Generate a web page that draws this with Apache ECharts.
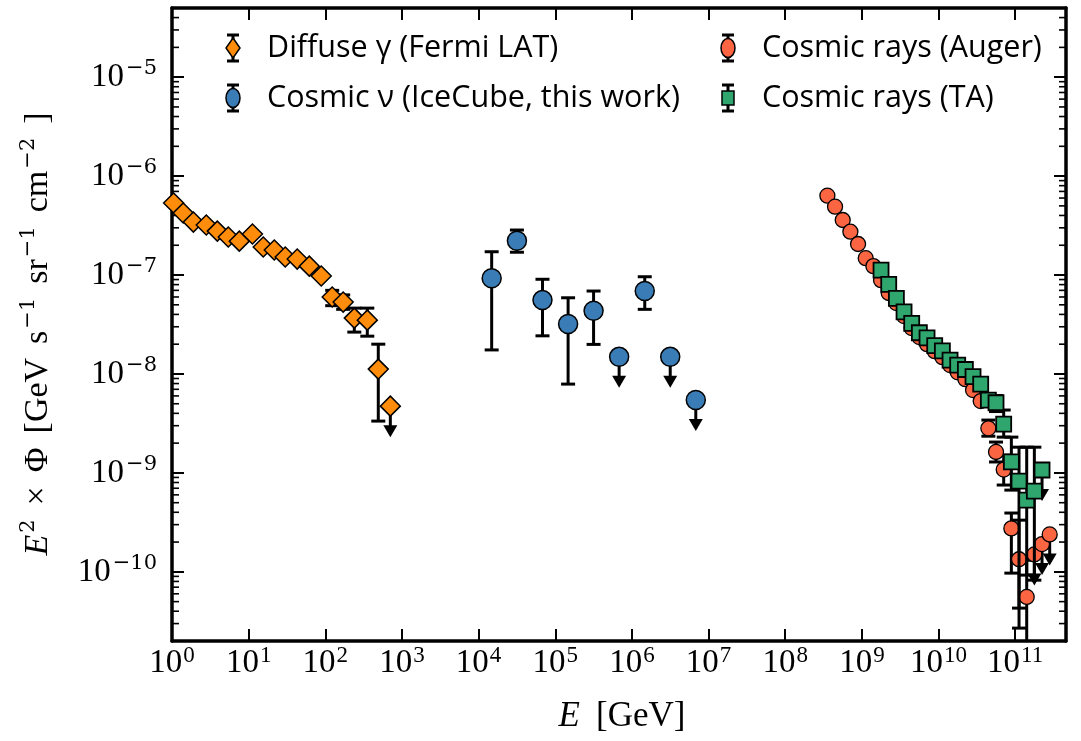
<!DOCTYPE html>
<html><head><meta charset="utf-8">
<script src="https://cdn.jsdelivr.net/npm/echarts@6/dist/echarts.min.js"></script>
<style>html,body{margin:0;padding:0;background:#fff}#c{width:1081px;height:741px}</style>
</head><body><div id="c"></div>
<script>
// ---------- data ----------
const fermiE    = [1.05, 1.40, 1.90, 2.80, 3.90, 5.42, 7.55, 11.2, 15.5, 21.6, 30.0, 43.0, 61.8, 88.5, 123, 171, 239, 353, 491, 705];
const fermiFlux = [5.35e-7, 4.24e-7, 3.43e-7, 3.20e-7, 2.78e-7, 2.42e-7, 2.20e-7, 2.60e-7, 1.92e-7, 1.79e-7, 1.52e-7, 1.45e-7, 1.23e-7, 9.77e-8, 6.0e-8, 5.33e-8, 3.67e-8, 3.50e-8, 1.12e-8, 4.73e-9];
const fermiLo   = [null, null, null, null, null, null, null, null, null, null, null, null, null, null, 4.9e-8, 4.5e-8, 2.65e-8, 2.41e-8, 3.34e-9, null];
const fermiHi   = [null, null, null, null, null, null, null, null, null, null, null, null, null, null, 7.0e-8, 6.3e-8, 4.63e-8, 4.63e-8, 2.0e-8, null];
const fermiUL   = [0,0,0,0,0,0,0,0,0,0,0,0,0,0,0,0,0,0,0,1];

const icE    = [1.48e4, 3.16e4, 6.81e4, 1.47e5, 3.16e5, 6.81e5, 1.47e6, 3.16e6, 6.81e6];
const icFlux = [9.27e-8, 2.22e-7, 5.58e-8, 3.20e-8, 4.36e-8, 1.49e-8, 6.89e-8, 1.49e-8, 5.45e-9];
const icLo   = [1.75e-8, 1.70e-7, 2.43e-8, 7.9e-9, 1.99e-8, null, 4.5e-8, null, null];
const icHi   = [1.72e-7, 2.85e-7, 9.06e-8, 5.89e-8, 6.89e-8, null, 9.61e-8, null, null];
const icUL   = [0,0,0,0,0,1,0,1,1];

const augerE    = [3.548e8, 4.467e8, 5.623e8, 7.079e8, 8.913e8, 1.122e9, 1.413e9, 1.778e9, 2.239e9, 2.818e9,
                   3.548e9, 4.467e9, 5.623e9, 7.079e9, 8.913e9, 1.122e10, 1.413e10, 1.778e10, 2.239e10, 2.818e10,
                   3.548e10, 4.467e10, 5.623e10, 7.079e10, 8.913e10, 1.122e11, 1.413e11, 1.778e11, 2.239e11, 2.818e11];
const augerFlux = [6.34e-7, 4.91e-7, 3.60e-7, 2.74e-7, 2.06e-7, 1.48e-7, 1.23e-7, 8.87e-8, 6.58e-8, 5.21e-8,
                   3.85e-8, 2.91e-8, 2.36e-8, 2.00e-8, 1.70e-8, 1.48e-8, 1.23e-8, 1.04e-8, 8.87e-9, 6.87e-9,
                   5.32e-9, 2.82e-9, 1.63e-9, 1.08e-9, 2.75e-10, 1.34e-10, 5.58e-11, 1.50e-10, 1.91e-10, 2.39e-10];
const augerLo   = [null,null,null,null,null,null,null,null,null,null,null,null,null,null,null,null,null,null,null,null,
                   null, 2.35e-9, 1.29e-9, 7.54e-10, 9.71e-11, 2.70e-11, 1.0e-11, null, null, null];
const augerHi   = [null,null,null,null,null,null,null,null,null,null,null,null,null,null,null,null,null,null,null,null,
                   null, 3.42e-9, 2.05e-9, 1.51e-9, 3.93e-10, 3.33e-10, 1.31e-10, null, null, null];
const augerUL   = [0,0,0,0,0,0,0,0,0,0,0,0,0,0,0,0,0,0,0,0,0,0,0,0,0,0,0,1,1,1];

const taE    = [1.778e9, 2.239e9, 2.818e9, 3.548e9, 4.467e9, 5.623e9, 7.079e9, 8.913e9, 1.122e10, 1.413e10, 1.778e10,
                2.239e10, 2.818e10, 3.548e10, 4.467e10, 5.623e10, 7.079e10, 8.913e10, 1.122e11, 1.413e11, 1.778e11, 2.239e11];
const taFlux = [1.12e-7, 8.05e-8, 5.81e-8, 4.25e-8, 3.25e-8, 2.61e-8, 2.32e-8, 1.93e-8, 1.71e-8, 1.38e-8, 1.23e-8,
                1.11e-8, 9.38e-9, 7.91e-9, 5.45e-9, 5.12e-9, 3.11e-9, 1.29e-9, 8.26e-10, 5.31e-10, 6.55e-10, 1.07e-9];
const taLo   = [null,null,null,null,null,null,null,null,null,null,null,null,null,null,null, 4.17e-9, 2.30e-9, 6.70e-10, 4.30e-11, 9.27e-11, 8.24e-11, null];
const taHi   = [null,null,null,null,null,null,null,null,null,null,null,null,null,null,null, 6.05e-9, 4.32e-9, 2.30e-9, 1.82e-9, 1.82e-9, 1.82e-9, null];
const taUL   = [0,0,0,0,0,0,0,0,0,0,0,0,0,0,0,0,0,0,0,0,0,1];

const seriesNames = ['Diffuse \u03b3 (Fermi LAT)', 'Cosmic \u03bd (IceCube, this work)', 'Cosmic rays (Auger)', 'Cosmic rays (TA)'];
const minorFactors = [2,3,4,5,6,7,8,9];
const minorDecades = [-11,-10,-9,-8,-7,-6,-5];

// ---------- styles ----------
const C_OR = '#ff8c0a', C_BL = '#3a7db6', C_RD = '#fc6542', C_GR = '#2fa66d';
const SERIF = 'Liberation Serif';
const SUPF = 'DejaVu Serif';
const SANS = 'Open Sans';

const pts = (E, F) => E.map((e, i) => [e, F[i]]);
const errs = (E, lo, hi) => E.map((e, i) => lo[i] != null ? [e, lo[i], hi[i]] : null).filter(Boolean);
const uls = (E, F, ul) => E.map((e, i) => ul[i] ? [e, F[i]] : null).filter(Boolean);

function errRender(params, api) {
  const x = api.value(0);
  const p1 = api.coord([x, api.value(2)]);
  const p2 = api.coord([x, api.value(1)]);
  const cap = 7, st = {stroke: '#000', lineWidth: 3};
  return {type: 'group', children: [
    {type: 'line', shape: {x1: p1[0], y1: p1[1], x2: p2[0], y2: p2[1]}, style: st},
    {type: 'line', shape: {x1: p1[0]-cap, y1: p1[1], x2: p1[0]+cap, y2: p1[1]}, style: st},
    {type: 'line', shape: {x1: p2[0]-cap, y1: p2[1], x2: p2[0]+cap, y2: p2[1]}, style: st}
  ]};
}
function ulRender(params, api) {
  const p = api.coord([api.value(0), api.value(1)]);
  const L = 31, hw = 7, hh = 12;
  return {type: 'group', children: [
    {type: 'line', shape: {x1: p[0], y1: p[1], x2: p[0], y2: p[1]+L-hh+1}, style: {stroke: '#000', lineWidth: 3}},
    {type: 'polygon', shape: {points: [[p[0]-hw, p[1]+L-hh], [p[0]+hw, p[1]+L-hh], [p[0], p[1]+L]]}, style: {fill: '#000'}}
  ]};
}
const minorData = [];
minorDecades.forEach(d => minorFactors.forEach(f => {
  const v = f * Math.pow(10, d);
  if (v > 2e-11 && v < 5e-5) minorData.push([1, v]);
}));
function minorRender(params, api) {
  const p = api.coord([1, api.value(1)]);
  const cs = params.coordSys, len = 7, st = {stroke: '#000', lineWidth: 1.6};
  return {type: 'group', children: [
    {type: 'line', shape: {x1: cs.x, y1: p[1], x2: cs.x + len, y2: p[1]}, style: st},
    {type: 'line', shape: {x1: cs.x + cs.width - len, y1: p[1], x2: cs.x + cs.width, y2: p[1]}, style: st}
  ]};
}

const richX = {
  b: {fontFamily: SERIF, fontSize: 33, color: '#000', lineHeight: 38, verticalAlign: 'middle'},
  s: {fontFamily: SERIF, fontSize: 23, color: '#000', lineHeight: 20, verticalAlign: 'top', padding: [0, 0, 0, 1]}
};
const richY = {
  b: {fontFamily: SERIF, fontSize: 33, color: '#000', lineHeight: 38, verticalAlign: 'middle'},
  s: {fontFamily: SUPF, fontSize: 21, color: '#000', lineHeight: 20, verticalAlign: 'top', padding: [0, 0, 0, 2]}
};
function isPow(v) { const l = Math.log10(v); const e = Math.round(l); return Math.abs(l - e) < 1e-6 ? e : null; }

const axLine = {show: true, onZero: false, lineStyle: {color: '#000', width: 3.5}};
const axTick = {show: true, inside: true, length: 12, lineStyle: {color: '#000', width: 2}};

function xAxis(pos, labels) {
  return {type: 'log', logBase: 10, min: 1, max: 4.6e11, interval: 1, splitNumber: 12, position: pos,
    axisLine: axLine, axisTick: axTick, splitLine: {show: false}, minorTick: {show: false},
    axisLabel: {show: labels, margin: 3, rich: richX,
      formatter: v => { const e = isPow(v); return e == null ? '' : '{b|10}{s|' + e + '}'; }}};
}
function yAxis(pos, labels) {
  return {type: 'log', logBase: 10, min: 2e-11, max: 5e-5, splitNumber: 7, position: pos,
    axisLine: axLine, axisTick: axTick, splitLine: {show: false}, minorTick: {show: false},
    axisLabel: {show: labels, margin: 15, rich: richY,
      formatter: v => { const e = isPow(v); return e == null ? '' : '{b|10}{s|\u2212' + (-e) + '}'; }}};
}

// ---------- legend (graphic) ----------
function legendItem(x, y, shape, color, text) {
  const st = {stroke: '#000', lineWidth: 3};
  const ch = [
    {type: 'line', shape: {x1: x, y1: y-13, x2: x, y2: y+13}, style: st},
    {type: 'line', shape: {x1: x-6, y1: y-13, x2: x+6, y2: y-13}, style: st},
    {type: 'line', shape: {x1: x-6, y1: y+13, x2: x+6, y2: y+13}, style: st}
  ];
  const ms = {fill: color, stroke: '#000', lineWidth: 1.5};
  if (shape === 'diamond') ch.push({type: 'polygon', shape: {points: [[x, y-10], [x+7, y], [x, y+10], [x-7, y]]}, style: ms});
  else if (shape === 'circle') ch.push({type: 'ellipse', shape: {cx: x, cy: y, rx: 7, ry: 9.5}, style: ms});
  else ch.push({type: 'rect', shape: {x: x-6, y: y-7, width: 12, height: 14}, style: ms});
  ch.push({type: 'text', x: x + 34, y: y, style: {text: text, fontFamily: SANS, fontSize: 30.5, fill: '#000', verticalAlign: 'middle', align: 'left'}});
  return {type: 'group', children: ch};
}

const chart = echarts.init(document.getElementById('c'), null, {renderer: 'canvas'});
chart.setOption({
  animation: false,
  backgroundColor: '#fff',
  grid: {left: 172, right: 15, top: 8, bottom: 100, containLabel: false},
  xAxis: [xAxis('bottom', true), xAxis('top', false)],
  yAxis: [yAxis('left', true), yAxis('right', false)],
  series: [
    {type: 'custom', renderItem: minorRender, data: minorData, z: 1, silent: true, clip: false},
    {type: 'custom', renderItem: errRender, data: errs(fermiE, fermiLo, fermiHi), z: 3, clip: true},
    {type: 'custom', renderItem: ulRender, data: uls(fermiE, fermiFlux, fermiUL), z: 3, clip: true},
    {type: 'scatter', name: seriesNames[0], data: pts(fermiE, fermiFlux), symbol: 'diamond', symbolSize: 20, z: 4,
      itemStyle: {color: C_OR, borderColor: '#000', borderWidth: 1.5, opacity: 1}},
    {type: 'custom', renderItem: errRender, data: errs(icE, icLo, icHi), z: 3, clip: true},
    {type: 'custom', renderItem: ulRender, data: uls(icE, icFlux, icUL), z: 3, clip: true},
    {type: 'scatter', name: seriesNames[1], data: pts(icE, icFlux), symbol: 'circle', symbolSize: 19, z: 4,
      itemStyle: {color: C_BL, borderColor: '#000', borderWidth: 1.5, opacity: 1}},
    {type: 'custom', renderItem: errRender, data: errs(augerE, augerLo, augerHi), z: 5, clip: true},
    {type: 'custom', renderItem: ulRender, data: uls(augerE, augerFlux, augerUL), z: 5, clip: true},
    {type: 'scatter', name: seriesNames[2], data: pts(augerE, augerFlux), symbol: 'circle', symbolSize: 15, z: 6,
      itemStyle: {color: C_RD, borderColor: '#000', borderWidth: 1.3, opacity: 1}},
    {type: 'custom', renderItem: errRender, data: errs(taE, taLo, taHi), z: 7, clip: true},
    {type: 'custom', renderItem: ulRender, data: uls(taE, taFlux, taUL), z: 7, clip: true},
    {type: 'scatter', name: seriesNames[3], data: pts(taE, taFlux), symbol: 'rect', symbolSize: 15, z: 8,
      itemStyle: {color: C_GR, borderColor: '#000', borderWidth: 1.8, opacity: 1}}
  ],
  graphic: [
    legendItem(233, 48, 'diamond', C_OR, seriesNames[0]),
    legendItem(233, 98, 'circle', C_BL, seriesNames[1]),
    legendItem(728, 48, 'circle', C_RD, seriesNames[2]),
    legendItem(728, 98, 'rect', C_GR, seriesNames[3]),
    {type: 'text', x: 622, y: 717, style: {
      text: '{i|E}{t|[GeV]}', align: 'center', verticalAlign: 'middle',
      rich: {i: {fontFamily: SERIF, fontStyle: 'italic', fontSize: 35, fill: '#000', padding: [0, 16, 0, 0]}, t: {fontFamily: SERIF, fontSize: 35, fill: '#000'}}}},
    {type: 'text', x: 38, y: 334, rotation: Math.PI / 2, style: {
      text: '{i|E}{s|2}{t|\u00d7}{t|\u03a6}{t|[GeV}{t|s}{s|\u22121}{t|sr}{s|\u22121}{t|cm}{s|\u22122}{t|]}',
      align: 'center', verticalAlign: 'middle',
      rich: {
        i: {fontFamily: SERIF, fontStyle: 'italic', fontSize: 34, fill: '#000', lineHeight: 40, verticalAlign: 'middle'},
        t: {fontFamily: SERIF, fontSize: 34, fill: '#000', lineHeight: 40, verticalAlign: 'middle', padding: [0, 0, 0, 14]},
        s: {fontFamily: SUPF, fontSize: 21, fill: '#000', lineHeight: 20, verticalAlign: 'top', padding: [0, 0, 0, 2]}
      }}}
  ]
});
</script>
</body></html>
